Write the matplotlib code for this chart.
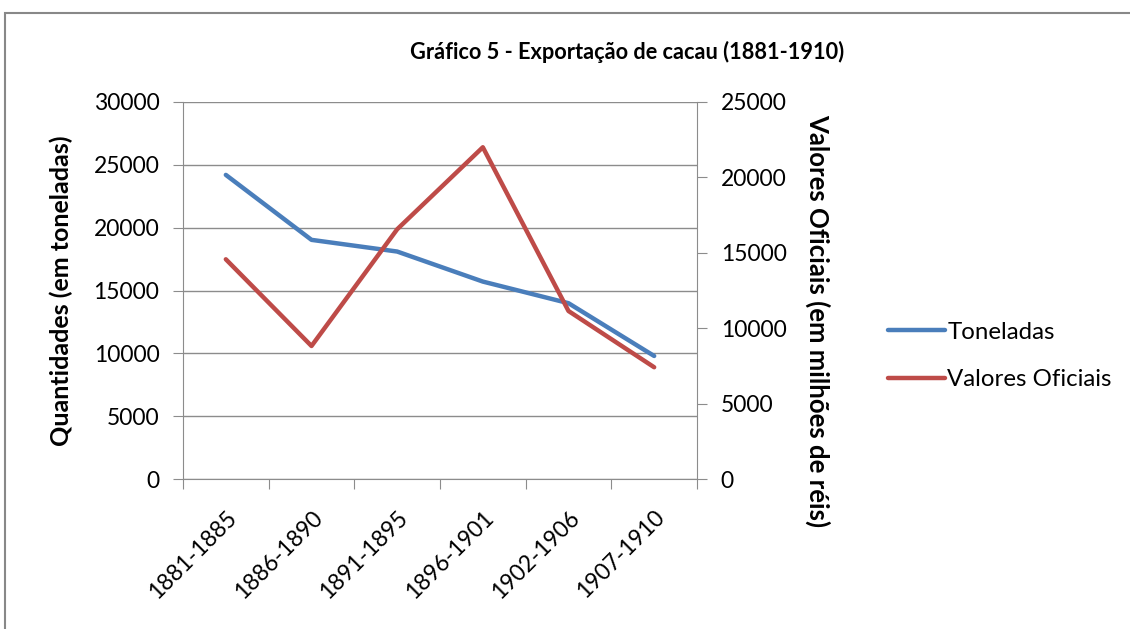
import matplotlib
matplotlib.use("Agg")
import matplotlib.pyplot as plt
from matplotlib.patches import Rectangle

plt.rcParams['font.family'] = ['Lato', 'DejaVu Sans']

# data
periodos = ['1881-1885', '1886-1890', '1891-1895', '1896-1901', '1902-1906', '1907-1910']
toneladas = [24200, 19030, 18100, 15710, 13990, 9790]
valores = [14570, 8820, 16560, 22000, 11140, 7410]
ticks_esq = [0, 5000, 10000, 15000, 20000, 25000, 30000]
ticks_dir = [0, 5000, 10000, 15000, 20000, 25000]

azul = '#4a7ebb'
vermelho = '#be4b48'

fig = plt.figure(figsize=(11.3, 6.29), dpi=100)
# outer chart frame
fig.patches.append(Rectangle((5 / 1130, -0.1), 1.2, (629 - 13) / 629 + 0.1,
                             transform=fig.transFigure, fill=False,
                             edgecolor='#888888', lw=1.5))

ax = fig.add_axes([183 / 1130, 1 - 479 / 629, (697 - 183) / 1130, (479 - 102) / 629])
ax2 = ax.twinx()

x = list(range(len(periodos)))
l1, = ax.plot(x, toneladas, color=azul, lw=3.2, solid_capstyle='round', label='Toneladas')
l2, = ax2.plot(x, valores, color=vermelho, lw=3.2, solid_capstyle='round', label='Valores Oficiais')

ax.set_xlim(-0.5, 5.5)
ax.set_ylim(0, 30000)
ax2.set_ylim(0, 25000)
ax.set_yticks(ticks_esq)
ax2.set_yticks(ticks_dir)
ax.grid(axis='y', color='#8c8c8c', lw=1)
ax.set_axisbelow(True)

# boundaries between categories get the tick marks
ax.set_xticks([i - 0.5 for i in range(len(periodos) + 1)])
ax.set_xticklabels([])
ax.set_xticks(x, minor=True)
ax.set_xticklabels(periodos, minor=True, rotation=45, ha='right',
                   rotation_mode='anchor', fontsize=16.5)
ax.tick_params(axis='x', which='minor', length=0, pad=20)
ax.tick_params(axis='x', which='major', length=7, color='#8c8c8c')
ax.tick_params(axis='y', length=7, color='#8c8c8c', labelsize=16.5, pad=10)
ax2.tick_params(axis='y', length=7, color='#8c8c8c', labelsize=16.5, pad=10)

for a in (ax, ax2):
    for s in a.spines.values():
        s.set_visible(False)
ax.spines['left'].set_visible(True)
ax.spines['left'].set_color('#8c8c8c')
ax.spines['bottom'].set_visible(True)
ax.spines['bottom'].set_color('#8c8c8c')
ax2.spines['right'].set_visible(True)
ax2.spines['right'].set_color('#8c8c8c')

ax.set_ylabel('Quantidades (em toneladas)', fontsize=18, fontweight='bold', labelpad=15)
ax2.set_ylabel('Valores Oficiais (em milhões de réis)', fontsize=18.5, fontweight='bold',
               rotation=270, labelpad=32)
ax2.yaxis.label.set_y(0.42)

fig.text(627 / 1130, 1 - 52 / 629, 'Gráfico 5 - Exportação de cacau (1881-1910)',
         ha='center', va='center', fontsize=15.7, fontweight='bold')

fig.legend(handles=[l1, l2], loc='center left', bbox_to_anchor=(888 / 1130, 1 - 356 / 629),
           frameon=False, fontsize=17.3, handlelength=2.37, handletextpad=0.1,
           labelspacing=1.1, borderpad=0, borderaxespad=0)

fig.savefig('out.png', dpi=100)
